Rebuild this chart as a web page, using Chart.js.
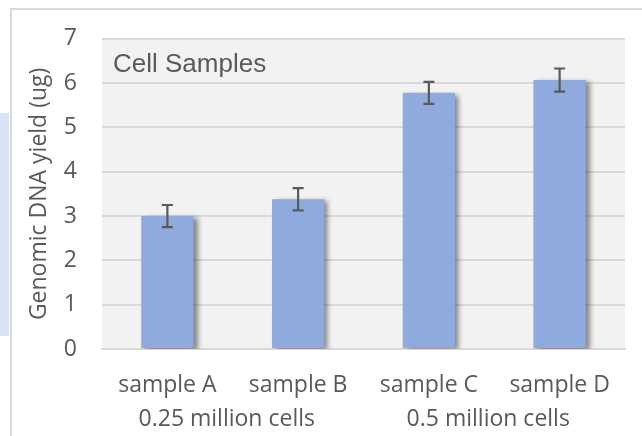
<!DOCTYPE html>
<html>
<head>
<meta charset="utf-8">
<script src="https://cdn.jsdelivr.net/npm/chart.js@4"></script>
<style>
  html, body { margin: 0; padding: 0; background: #ffffff; }
  #wrap { width: 642px; height: 436px; position: relative; }
</style>
</head>
<body>
<div id="wrap"><canvas id="c" width="642" height="436"></canvas></div>
<script>
const categories = ['sample A', 'sample B', 'sample C', 'sample D'];
const yieldValues = [3.0, 3.38, 5.78, 6.07];
const errorValues = [0.25, 0.25, 0.25, 0.26];
const groupLabels = ['0.25 million cells', '0.5 million cells'];
const groupMembers = [[0, 1], [2, 3]];
const yTicks = [0, 1, 2, 3, 4, 5, 6, 7];
const chartTitle = 'Cell Samples';
const yTitle = 'Genomic DNA yield (ug)';

const labelFont = '"Open Sans", "Noto Sans", sans-serif';

const framePlugin = {
  id: 'frame',
  beforeDraw(chart) {
    const ctx = chart.ctx;
    const a = chart.chartArea;
    ctx.save();
    ctx.fillStyle = '#dae3f3';
    ctx.fillRect(0, 113, 9, 223);
    ctx.strokeStyle = '#d9d9d9';
    ctx.lineWidth = 2;
    ctx.beginPath();
    ctx.moveTo(11, 436);
    ctx.lineTo(11, 9);
    ctx.lineTo(642, 9);
    ctx.stroke();
    ctx.fillStyle = '#f2f2f2';
    ctx.fillRect(a.left, a.top, a.right - a.left, a.bottom - a.top);
    ctx.restore();
  }
};

const shadowPlugin = {
  id: 'barShadow',
  beforeDatasetsDraw(chart) {
    const ctx = chart.ctx;
    ctx.save();
    ctx.shadowColor = 'rgba(0,0,0,0.45)';
    ctx.shadowBlur = 5;
    ctx.shadowOffsetX = 4;
    ctx.shadowOffsetY = 2;
  },
  afterDatasetsDraw(chart) {
    chart.ctx.restore();
  }
};

const errorPlugin = {
  id: 'errorBars',
  afterDatasetsDraw(chart) {
    const ctx = chart.ctx;
    const y = chart.scales.y;
    const meta = chart.getDatasetMeta(0);
    ctx.save();
    ctx.strokeStyle = '#595959';
    ctx.lineWidth = 2.2;
    meta.data.forEach((bar, i) => {
      const v = yieldValues[i], e = errorValues[i];
      const yt = y.getPixelForValue(v + e);
      const yb = y.getPixelForValue(v - e);
      const x = bar.x;
      ctx.beginPath();
      ctx.moveTo(x, yt); ctx.lineTo(x, yb);
      ctx.moveTo(x - 5.5, yt); ctx.lineTo(x + 5.5, yt);
      ctx.moveTo(x - 5.5, yb); ctx.lineTo(x + 5.5, yb);
      ctx.stroke();
    });
    ctx.restore();
  }
};

const textPlugin = {
  id: 'texts',
  afterDraw(chart) {
    const ctx = chart.ctx;
    const a = chart.chartArea;
    const x = chart.scales.x;
    ctx.save();
    ctx.fillStyle = '#595959';
    ctx.font = '26px "Liberation Sans", Arial, sans-serif';
    ctx.textAlign = 'left';
    ctx.textBaseline = 'alphabetic';
    ctx.fillText(chartTitle, a.left + 11, 72);
    ctx.font = '23px ' + labelFont;
    ctx.textAlign = 'center';
    ctx.textBaseline = 'middle';
    groupLabels.forEach((g, i) => {
      const m = groupMembers[i];
      const cx = (x.getPixelForValue(m[0]) + x.getPixelForValue(m[m.length - 1])) / 2;
      ctx.fillText(g, cx - 6, 419);
    });
    ctx.restore();
  }
};

new Chart(document.getElementById('c'), {
  type: 'bar',
  data: {
    labels: categories,
    datasets: [{
      data: yieldValues,
      backgroundColor: '#8faadc',
      borderWidth: 0,
      categoryPercentage: 1.0,
      barPercentage: 0.4
    }]
  },
  options: {
    responsive: false,
    animation: false,
    devicePixelRatio: 1,
    layout: { padding: { top: 33, right: 17, left: 0, bottom: 0 } },
    plugins: {
      legend: { display: false },
      tooltip: { enabled: false },
      title: { display: false }
    },
    scales: {
      x: {
        grid: { display: false, drawTicks: false },
        border: { display: true, color: '#d9d9d9', width: 2 },
        ticks: {
          color: '#595959',
          font: { family: labelFont, size: 23 },
          padding: 23,
          maxRotation: 0,
          autoSkip: false
        },
        afterFit(s) { s.height = 87; }
      },
      y: {
        min: 0,
        max: 7,
        afterBuildTicks(s) { s.ticks = yTicks.map(v => ({ value: v })); },
        grid: { color: '#d9d9d9', lineWidth: 2, drawTicks: false },
        border: { display: false },
        ticks: {
          color: '#595959',
          font: { family: labelFont, size: 23 },
          padding: 25
        },
        title: {
          display: true,
          text: yTitle,
          color: '#595959',
          font: { family: labelFont, size: 23 },
          padding: { top: 26, bottom: 0 }
        },
        afterFit(s) { s.width = 102; }
      }
    }
  },
  plugins: [framePlugin, shadowPlugin, errorPlugin, textPlugin]
});
</script>
</body>
</html>
